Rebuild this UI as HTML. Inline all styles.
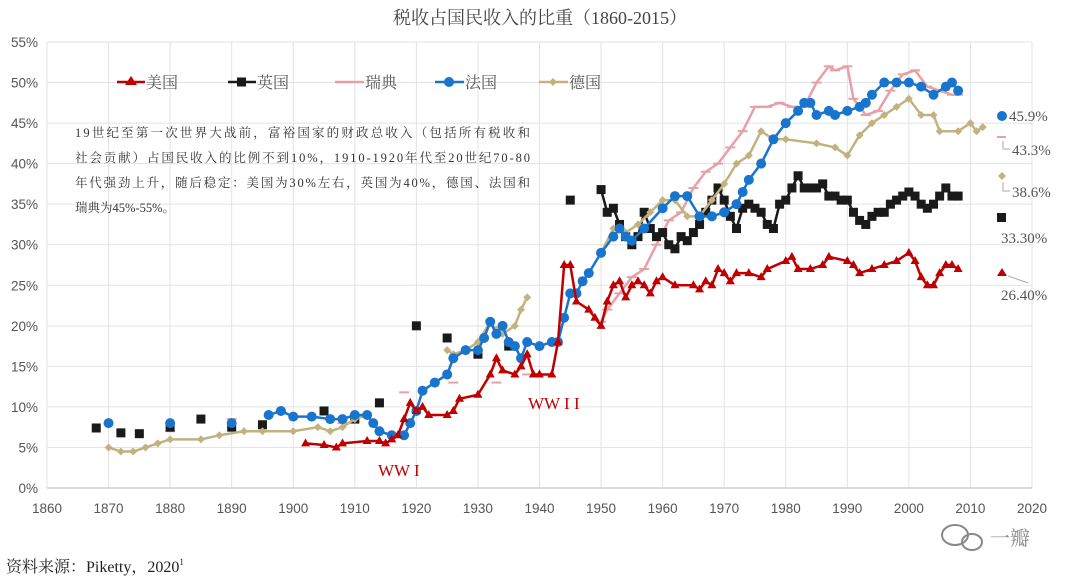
<!DOCTYPE html>
<html><head><meta charset="utf-8">
<style>
html,body{margin:0;padding:0;background:#fff;}
body{width:1080px;height:581px;overflow:hidden;font-family:"Liberation Serif","Noto Serif CJK SC",serif;}
svg text{font-family:"Liberation Serif","Noto Serif CJK SC",serif;}
svg text.tick{font-family:"Liberation Sans","Noto Sans CJK SC",sans-serif;}
</style></head>
<body>
<svg id="chart" width="1080" height="581" xmlns="http://www.w3.org/2000/svg">
<text x="540" y="24" text-anchor="middle" font-size="18" fill="#444">税收占国民收入的比重（1860-2015）</text>
<g id="grid"></g>
<g id="axes"></g>
<g id="series"></g>
<g font-size="16" fill="#555">
 <g><line x1="117" y1="82" x2="145" y2="82" stroke="#c00000" stroke-width="2.5"/><polygon points="131,76 137,85 125,85" fill="#c00000"/><text x="146" y="88">美国</text></g>
 <g><line x1="228" y1="82" x2="256" y2="82" stroke="#1a1a1a" stroke-width="2.5"/><rect x="237" y="77.5" width="9" height="9" fill="#1a1a1a"/><text x="257" y="88">英国</text></g>
 <g><line x1="335" y1="82" x2="364" y2="82" stroke="#e8a0a8" stroke-width="2.5"/><text x="365" y="88">瑞典</text></g>
 <g><line x1="435" y1="82" x2="464" y2="82" stroke="#1874cd" stroke-width="2.5"/><circle cx="449" cy="82" r="5" fill="#1874cd"/><text x="465" y="88">法国</text></g>
 <g><line x1="539" y1="82" x2="568" y2="82" stroke="#c2b280" stroke-width="2.5"/><polygon points="553,78 557,82 553,86 549,82" fill="#c2b280"/><text x="569" y="88">德国</text></g>
</g>
<g font-size="12.5" fill="#333" font-family="Liberation Sans, Noto Sans CJK SC, sans-serif">
 <text x="75" y="137" textLength="455">19世纪至第一次世界大战前，富裕国家的财政总收入（包括所有税收和</text>
 <text x="75" y="162" textLength="455">社会贡献）占国民收入的比例不到10%，1910-1920年代至20世纪70-80</text>
 <text x="75" y="187" textLength="455">年代强劲上升，随后稳定：美国为30%左右，英国为40%，德国、法国和</text>
 <text x="75" y="212">瑞典为45%-55%。</text>
</g>
<text x="378" y="476" font-size="17" fill="#c00000" font-family="Liberation Sans Narrow, Liberation Sans, sans-serif">WW I</text>
<text x="528" y="409" font-size="17" fill="#c00000" font-family="Liberation Sans Narrow, Liberation Sans, sans-serif">WW I I</text>
<g font-size="15" fill="#555">
 <circle cx="1002" cy="116" r="5" fill="#1874cd"/><text x="1009" y="121">45.9%</text>
 <line x1="997" y1="137" x2="1006" y2="137" stroke="#e8a0a8" stroke-width="2"/><polyline points="1003,141 1003,149 1010,149" fill="none" stroke="#aaa"/><text x="1012" y="155">43.3%</text>
 <polygon points="1002,172 1006,176 1002,180 998,176" fill="#c2b280"/><polyline points="1003,182 1003,191 1010,191" fill="none" stroke="#aaa"/><text x="1012" y="197">38.6%</text>
 <rect x="997" y="213" width="9" height="9" fill="#1a1a1a"/><text x="1001" y="243">33.30%</text>
 <polygon points="1002,268 1007,276 997,276" fill="#c00000"/><line x1="1008" y1="276" x2="1028" y2="283" stroke="#aaa"/><text x="1001" y="300">26.40%</text>
</g>
<text x="6" y="572" font-size="16" fill="#222">资料来源：Piketty，2020<tspan font-size="9" dy="-7">1</tspan></text>
<g fill="#888">
 <ellipse cx="955" cy="535" rx="13" ry="10" fill="none" stroke="#888" stroke-width="2"/>
 <ellipse cx="972" cy="542" rx="10" ry="8" fill="none" stroke="#888" stroke-width="2"/>
 <text x="990" y="545" font-size="20">一瓣</text>
</g>
</svg>
<script>
const yTicks=[0,5,10,15,20,25,30,35,40,45,50,55];
const xTicks=[1860,1870,1880,1890,1900,1910,1920,1930,1940,1950,1960,1970,1980,1990,2000,2010,2020];
// US
const usYears=[1902,1905,1907,1908,1912,1914,1915,1916,1917,1918,1919,1920,1921,1922,1925,1926,1927,1930,1932,1933,1934,1936,1937,1938,1939,1940,1942,1943,1944,1945,1946,1948,1949,1950,1951,1952,1953,1954,1955,1956,1957,1958,1959,1960,1962,1965,1966,1967,1968,1969,1970,1971,1972,1974,1976,1977,1980,1981,1982,1984,1986,1987,1990,1991,1992,1994,1996,1998,2000,2001,2002,2003,2004,2005,2006,2007,2008];
const usValues=[5.5,5.3,5.0,5.5,5.8,5.8,5.5,6,6.5,8.5,10.5,9.5,10,9,9,9.5,11,11.5,14,16,14.5,14,15,16.5,14,14,14,18,27.5,27.5,23,22,21,20,23,25,25.5,23.5,25,25.5,25,24,25.5,26,25,25,24.5,25.5,25,27,26.5,25.5,26.5,26.5,26,27,28,28.5,27,27,27.5,28.5,28,27.5,26.5,27,27.5,28,29,28,26,25,25,26.5,27.5,27.5,27];
// UK
const ukSparseYears=[1868,1872,1875,1880,1885,1890,1895,1905,1910,1914,1920,1925,1930,1935,1945];
const ukSparseValues=[7.4,6.8,6.7,7.5,8.5,7.5,7.8,9.5,8.5,10.5,20,18.5,16.5,17.5,35.5];
const ukYears=[1950,1951,1952,1953,1954,1955,1956,1957,1958,1959,1960,1961,1962,1963,1964,1965,1966,1967,1968,1969,1970,1971,1972,1973,1974,1975,1976,1977,1978,1979,1980,1981,1982,1983,1984,1985,1986,1987,1988,1989,1990,1991,1992,1993,1994,1995,1996,1997,1998,1999,2000,2001,2002,2003,2004,2005,2006,2007,2008];
const ukValues=[36.8,34,34.5,32.5,31,30,31,34,32,31,31.5,30,29.5,31,30.5,31.5,32.5,34,35.5,37,35.5,33.5,32,34.5,35,34.5,34,32.5,32,35,35.5,37,38.5,37,37,37,37.5,36,36,35.5,35.5,34,33,32.5,33.5,34,34,35,35.5,36,36.5,36,35,34.5,35,36,37,36,36];
// Sweden
const seSparseYears=[1880,1890,1908,1918,1926,1933,1938];
const seSparseValues=[7,8.5,8,11.8,13,13,14];
const seYears=[1950,1951,1953,1955,1957,1959,1961,1963,1965,1967,1969,1971,1973,1975,1977,1979,1981,1983,1985,1987,1988,1990,1991,1993,1995,1997,1999,2001,2003,2005,2007,2008];
const seValues=[20.5,22,24,26,27,30,33,34,37,39,40,42,44,47,47,47.5,47,47,50,52,51.5,52,48,46,46.5,49,51,51.5,49.5,49,48.5,48.5];
// France
const frSparseYears=[1870,1880,1890];
const frSparseValues=[8,8,8];
const frYears=[1896,1898,1900,1903,1906,1908,1910,1912,1913,1914,1916,1918,1919,1920,1921,1923,1925,1926,1928,1930,1931,1932,1933,1934,1935,1936,1937,1938,1940,1942,1943,1944,1945,1946,1947,1948,1950,1952,1953,1954,1955,1957,1960,1962,1964,1966,1968,1970,1972,1973,1974,1976,1978,1980,1982,1983,1984,1985,1987,1988,1990,1992,1993,1994,1996,1998,2000,2002,2004,2006,2007,2008];
const frValues=[9,9.5,8.8,8.8,8.5,8.5,9,9,8,7,6.5,6.5,8,9.5,12,13,14,16,17,17,18.5,20.5,19,20,18,17.5,16,18,17.5,18,18,21,24,24,25.5,26.5,29,31,32,31,30.5,32,34.5,36,36,33.5,33.5,34,35,36.5,38,40,43,45,46.5,47.5,47.5,46,46.5,46,46.5,47,47.5,48.5,50,50,50,49.5,48.5,49.5,50,49];
// Germany
const deYears1=[1870,1872,1874,1876,1878,1880,1885,1888,1892,1895,1900,1904,1906,1908,1910,1912];
const deValues1=[5,4.5,4.5,5,5.5,6,6,6.5,7,7,7,7.5,7,7.5,8.5,9];
const deYears2=[1925,1926,1928,1930,1932,1933,1934,1936,1937,1938];
const deValues2=[17,16.5,17,18,20.5,19.5,19,20,22,23.5];
const deYears3=[1950,1952,1954,1956,1958,1960,1962,1964,1966,1968,1970,1972,1974,1976,1978,1980,1985,1988,1990,1992,1994,1996,1998,2000,2002,2004,2005,2008,2010,2011,2012];
const deValues3=[29,32,31.5,32.5,34,35.5,35.5,33.5,33.5,35.5,37.5,40,41,44,43,43,42.5,42,41,43.5,45,46,47,48,46,46,44,44,45,44,44.5];

const NS='http://www.w3.org/2000/svg';
const X0=47,X1=1032,Y0=488,Y1=42;
function xs(yr){return X0+(yr-1860)/(2020-1860)*(X1-X0);}
function ys(v){return Y0-v/55*(Y0-Y1);}
function mk(tag,attrs,parent){const e=document.createElementNS(NS,tag);for(const k in attrs)e.setAttribute(k,attrs[k]);parent.appendChild(e);return e;}
const grid=document.getElementById('grid'),axes=document.getElementById('axes'),ser=document.getElementById('series');
yTicks.forEach(t=>{
 const l=mk('line',{x1:X0,x2:X1,y1:ys(t),y2:ys(t),stroke:'#e3e3e3','stroke-width':1},grid);
 
 
 const tx=mk('text',{x:38,y:ys(t)+5,'text-anchor':'end','font-size':13.5,fill:'#555','class':'tick'},axes);
 tx.textContent=t+'%';
 
 
});
xTicks.forEach(t=>{
 const l=mk('line',{x1:xs(t),x2:xs(t),y1:Y1,y2:Y0,stroke:'#e3e3e3','stroke-width':1},grid);
 
 
 const tx=mk('text',{x:xs(t),y:513,'text-anchor':'middle','font-size':13.5,fill:'#555','class':'tick'},axes);
 tx.textContent=t;
 
 
});
const ax=mk('line',{x1:X0,x2:X1,y1:Y0,y2:Y0,stroke:'#d0d0d0','stroke-width':1.5},axes);



function marker(shape,x,y,color,g){
 let e;
 if(shape==='tri')e=mk('polygon',{points:`${x},${y-5} ${x+4.5},${y+3} ${x-4.5},${y+3}`,fill:color},g);
 else if(shape==='sq')e=mk('rect',{x:x-4.5,y:y-4.5,width:9,height:9,fill:color},g);
 else if(shape==='circ')e=mk('circle',{cx:x,cy:y,r:5,fill:color},g);
 else if(shape==='dia')e=mk('polygon',{points:`${x},${y-4} ${x+4},${y} ${x},${y+4} ${x-4},${y}`,fill:color},g);
 else if(shape==='dash')e=mk('line',{x1:x-5,x2:x+5,y1:y,y2:y,stroke:color,'stroke-width':2},g);
 return e;
}
function drawLine(years,vals,color,shape,name,withLine){
 const g=mk('g',{},ser);
 
 
 if(withLine){
  const pts=years.map((y,i)=>xs(y)+','+ys(vals[i])).join(' ');
  const p=mk('polyline',{points:pts,fill:'none',stroke:color,'stroke-width':2.5,'stroke-linejoin':'round'},g);
  
  
 }
 years.forEach((y,i)=>{
  const m=marker(shape,xs(y),ys(vals[i]),color,g);
  
  
 });
}
drawLine(seSparseYears,seSparseValues,'#e8a0a8','dash','sweden-early',false);
drawLine(seYears,seValues,'#e8a0a8','dash','sweden-series',true);
drawLine(ukSparseYears,ukSparseValues,'#1a1a1a','sq','uk-early',false);
drawLine(ukYears,ukValues,'#1a1a1a','sq','uk-series',true);
drawLine(deYears1,deValues1,'#c2b280','dia','germany-early',true);
drawLine(deYears2,deValues2,'#c2b280','dia','germany-interwar',true);
drawLine(deYears3,deValues3,'#c2b280','dia','germany-postwar',true);
drawLine(frSparseYears,frSparseValues,'#1874cd','circ','france-early',false);
drawLine(frYears,frValues,'#1874cd','circ','france-series',true);
drawLine(usYears,usValues,'#c00000','tri','us-series',true);
</script>
</body></html>
